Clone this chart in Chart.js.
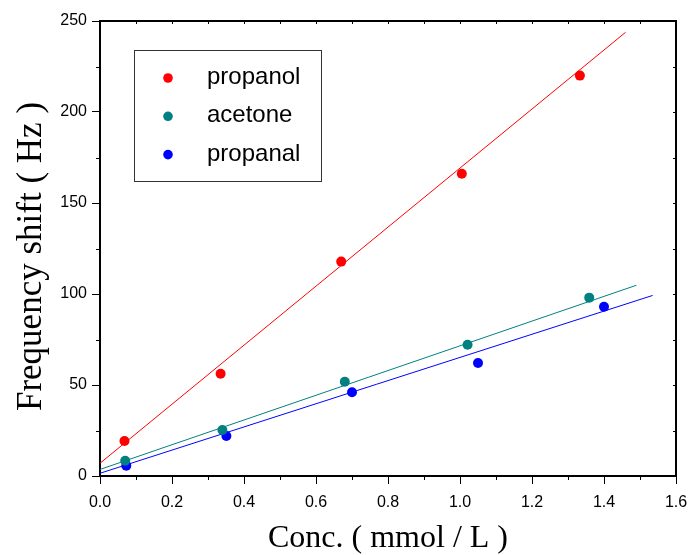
<!DOCTYPE html>
<html>
<head>
<meta charset="utf-8">
<script src="https://cdn.jsdelivr.net/npm/chart.js@4/dist/chart.umd.min.js"></script>
<style>
  html, body { margin: 0; padding: 0; background: #fff; }
  canvas { display: block; }
</style>
</head>
<body>
<canvas id="c" width="690" height="555"></canvas>
<script>
// Measured points: concentration (mmol/L) vs frequency shift (Hz)
const seriesNames = ['propanol', 'acetone', 'propanal'];
const seriesColors = ['#ff0000', '#008080', '#0000ff'];

const propanolX = [0.068, 0.335, 0.67, 1.005, 1.333];
const propanolY = [19.2, 56.2, 117.8, 166.1, 220.0];
const acetoneX  = [0.070, 0.34, 0.68, 1.021, 1.359];
const acetoneY  = [8.4, 25.3, 51.8, 72.1, 98.0];
const propanalX = [0.073, 0.351, 0.70, 1.05, 1.40];
const propanalY = [5.7, 22.0, 46.0, 62.1, 93.0];

// Linear fit lines (start and end of each fitted segment)
const propanolFitX = [0, 1.46];
const propanolFitY = [7.0, 243.8];
const acetoneFitX  = [0, 1.49];
const acetoneFitY  = [3.6, 104.8];
const propanalFitX = [0, 1.535];
const propanalFitY = [1.5, 99.2];

// Axis ranges and tick steps
const xMin = 0, xMax = 1.6, xMajor = 0.2, xMinor = 0.1;
const yMin = 0, yMax = 250, yMajor = 50, yMinor = 25;

const xTitle = 'Conc. ( mmol / L )';
const yTitle = 'Frequency shift ( Hz )';

const pairs = (xs, ys) => xs.map((x, i) => ({ x, y: ys[i] }));

const pointSets = [[propanolX, propanolY], [acetoneX, acetoneY], [propanalX, propanalY]];
const fitSets = [[propanolFitX, propanolFitY], [acetoneFitX, acetoneFitY], [propanalFitX, propanalFitY]];

const datasets = [];
pointSets.forEach(([xs, ys], i) => {
  datasets.push({
    type: 'scatter',
    label: seriesNames[i],
    data: pairs(xs, ys),
    backgroundColor: seriesColors[i],
    borderWidth: 0,
    pointRadius: 5,
    order: 0
  });
});
fitSets.forEach(([xs, ys], i) => {
  datasets.push({
    type: 'line',
    label: seriesNames[i] + ' fit',
    data: pairs(xs, ys),
    borderColor: seriesColors[i],
    borderWidth: 1,
    pointRadius: 0,
    fill: false,
    tension: 0,
    order: 1
  });
});

// Minor ticks, mirrored top/right axes, the vertical axis title and the boxed legend
const frame = {
  id: 'frame',
  afterDraw(chart) {
    const { ctx, chartArea: a, scales: { x, y } } = chart;
    ctx.save();
    ctx.strokeStyle = '#000';
    ctx.lineWidth = 1;
    ctx.beginPath();
    // bottom minor ticks (outward) and top ticks (inward)
    for (let v = xMin; v <= xMax + 1e-9; v += xMinor) {
      const px = Math.round(x.getPixelForValue(v)) + 0.5;
      const isMajor = Math.abs(v / xMajor - Math.round(v / xMajor)) < 1e-6;
      if (!isMajor) { ctx.moveTo(px, a.bottom); ctx.lineTo(px, a.bottom + 4); }
      ctx.moveTo(px, a.top); ctx.lineTo(px, a.top + 3);
    }
    // left minor ticks (outward) and right ticks (inward)
    for (let v = yMin; v <= yMax + 1e-9; v += yMinor) {
      const py = Math.round(y.getPixelForValue(v)) + 0.5;
      const isMajor = Math.abs(v / yMajor - Math.round(v / yMajor)) < 1e-6;
      if (!isMajor) { ctx.moveTo(a.left, py); ctx.lineTo(a.left - 4, py); }
      ctx.moveTo(a.right, py); ctx.lineTo(a.right - 3, py);
    }
    ctx.stroke();
    // top and right axis lines
    ctx.lineWidth = 2;
    ctx.beginPath();
    ctx.moveTo(a.left - 1, a.top);
    ctx.lineTo(a.right, a.top);
    ctx.lineTo(a.right, a.bottom + 1);
    ctx.stroke();

    // vertical axis title
    ctx.save();
    ctx.translate(32, (a.top + a.bottom) / 2 + 8);
    ctx.rotate(-Math.PI / 2);
    ctx.fillStyle = '#000';
    ctx.font = '35px "Liberation Serif", "Times New Roman", serif';
    ctx.textAlign = 'center';
    ctx.textBaseline = 'middle';
    ctx.fillText(yTitle, 0, 0);
    ctx.restore();

    // legend box
    const bx = a.left + 34, by = a.top + 29, bw = 187, bh = 131;
    ctx.lineWidth = 1;
    ctx.strokeStyle = '#333';
    ctx.strokeRect(Math.round(bx) + 0.5, Math.round(by) + 0.5, bw, bh);
    ctx.font = '24px "Liberation Sans", Arial, sans-serif';
    ctx.textBaseline = 'alphabetic';
    ctx.textAlign = 'left';
    seriesNames.forEach((name, i) => {
      const cy = by + 28 + i * 38.3;
      ctx.fillStyle = seriesColors[i];
      ctx.beginPath();
      ctx.arc(bx + 34, cy, 4.8, 0, Math.PI * 2);
      ctx.fill();
      ctx.fillStyle = '#000';
      ctx.fillText(name, bx + 73, cy + 6);
    });
    ctx.restore();
  }
};

new Chart(document.getElementById('c'), {
  data: { datasets },
  options: {
    responsive: false,
    devicePixelRatio: 1,
    animation: false,
    layout: { padding: { top: 21, right: 14, left: 0, bottom: 0 } },
    plugins: { legend: { display: false }, tooltip: { enabled: false } },
    scales: {
      x: {
        type: 'linear',
        min: xMin, max: xMax,
        afterFit(s) { s.height = 79; s.paddingLeft = 0; s.paddingRight = 0; },
        border: { display: true, color: '#000', width: 2 },
        grid: { drawOnChartArea: false, drawTicks: true, tickLength: 8, tickColor: '#000', tickWidth: 1 },
        ticks: {
          stepSize: xMajor, padding: 9, color: '#000',
          font: { family: '"Liberation Sans", Arial, sans-serif', size: 16 },
          callback: v => v.toFixed(1),
          maxRotation: 0, autoSkip: false
        },
        title: {
          display: true, text: xTitle, color: '#000',
          font: { family: '"Liberation Serif", "Times New Roman", serif', size: 32, lineHeight: 1 },
          padding: { top: 0, bottom: 0 }
        }
      },
      y: {
        type: 'linear',
        min: yMin, max: yMax,
        afterFit(s) { s.width = 100; s.paddingTop = 0; s.paddingBottom = 0; },
        border: { display: true, color: '#000', width: 2 },
        grid: { drawOnChartArea: false, drawTicks: true, tickLength: 8, tickColor: '#000', tickWidth: 1 },
        ticks: {
          stepSize: yMajor, padding: 5, color: '#000',
          font: { family: '"Liberation Sans", Arial, sans-serif', size: 16 }
        },
        title: { display: false }
      }
    }
  },
  plugins: [frame]
});
</script>
</body>
</html>
